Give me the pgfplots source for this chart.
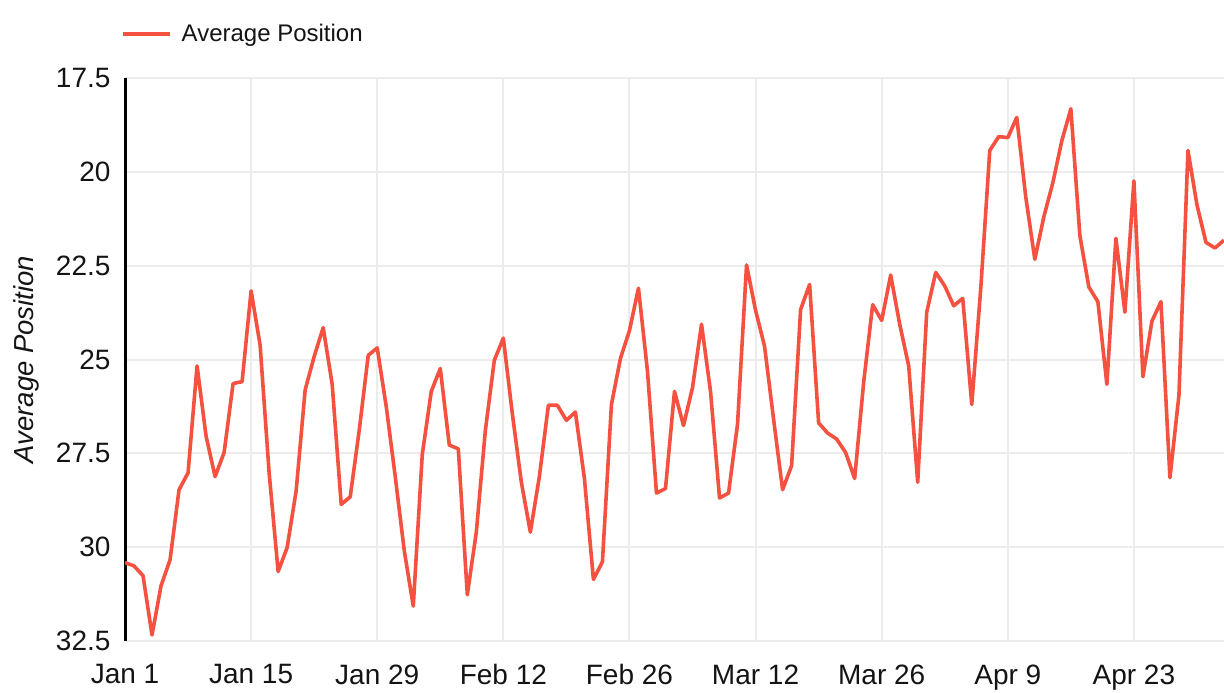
\documentclass[border=0pt]{standalone}
\usepackage{pgfplots}
\pgfplotsset{compat=1.18}
\usepackage{pgfplotstable}
\usepackage{fontspec}
\setmainfont{Liberation Sans}
\definecolor{linered}{RGB}{244,81,64}
\definecolor{gridgray}{RGB}{236,236,236}
\definecolor{txt}{RGB}{20,20,20}
\pgfplotstableread{
d v
0 30.41
1 30.50
2 30.76
3 32.34
4 31.03
5 30.34
6 28.47
7 28.02
8 25.17
9 27.04
10 28.12
11 27.48
12 25.64
13 25.59
14 23.17
15 24.62
16 28.02
17 30.65
18 30.01
19 28.5
20 25.81
21 24.92
22 24.15
23 25.66
24 28.86
25 28.66
26 26.89
27 24.89
28 24.69
29 26.25
30 28.12
31 30.09
32 31.57
33 27.53
34 25.85
35 25.24
36 27.28
37 27.38
38 31.27
39 29.6
40 26.9
41 25.02
42 24.43
43 26.45
44 28.27
45 29.6
46 28.12
47 26.22
48 26.22
49 26.62
50 26.4
51 28.17
52 30.86
53 30.39
54 26.2
55 24.97
56 24.23
57 23.1
58 25.31
59 28.56
60 28.44
61 25.85
62 26.76
63 25.75
64 24.06
65 25.85
66 28.69
67 28.56
68 26.72
69 22.48
70 23.69
71 24.65
72 26.59
73 28.47
74 27.83
75 23.67
76 23.0
77 26.69
78 26.96
79 27.12
80 27.48
81 28.17
82 25.61
83 23.54
84 23.96
85 22.75
86 24.06
87 25.17
88 28.27
89 23.74
90 22.68
91 23.04
92 23.57
93 23.37
94 26.2
95 23.1
96 19.43
97 19.06
98 19.09
99 18.55
100 20.68
101 22.33
102 21.2
103 20.29
104 19.17
105 18.32
106 21.7
107 23.07
108 23.46
109 25.66
110 21.77
111 23.74
112 20.24
113 25.46
114 23.98
115 23.46
116 28.15
117 25.95
118 19.43
119 20.88
120 21.88
121 22.03
122 21.82
}\datatable
\begin{document}
\begin{tikzpicture}
\useasboundingbox (0pt,0pt) rectangle (1224pt,693pt);
\begin{axis}[
  at={(125pt,52pt)}, anchor=south west,
  scale only axis, width=1099pt, height=563pt,
  xmin=0, xmax=122,
  ymin=17.5, ymax=32.5, y dir=reverse,
  xtick={0,14,28,42,56,70,84,98,112},
  xticklabels={Jan 1,Jan 15,Jan 29,Feb 12,Feb 26,Mar 12,Mar 26,Apr 9,Apr 23},
  ytick={17.5,20,22.5,25,27.5,30,32.5},
  /pgf/number format/assume math mode=true,
  major tick length=0pt,
  axis x line*=bottom, axis y line*=left,
  x axis line style={draw=none},
  y axis line style={black, line width=3pt},
  grid=major,
  major grid style={gridgray, line width=2pt},
  tick label style={font=\fontsize{28}{33}\selectfont, text=txt},
  yticklabel style={xshift=-11pt},
  xticklabel style={yshift=-20pt},
  ylabel={\itshape Average Position},
  every axis y label/.style={at={(rel axis cs:0,0.5)}, anchor=center, xshift=-99pt, rotate=90, font=\fontsize{27.5}{32}\selectfont, text=txt},
  legend style={at={(rel axis cs:0,1)}, anchor=west, xshift=-4pt, yshift=44pt, draw=none, fill=none, inner sep=0pt, font=\fontsize{24}{28}\selectfont, text=txt,
    nodes={inner sep=0pt}, /tikz/every odd column/.append style={column sep=10pt}},
  legend image code/.code={\draw[#1, line width=3.5pt] (0pt,0pt) -- (47pt,0pt);},
  clip=true,
]
\addplot[linered, line width=3.6pt, line join=round] table[x=d, y=v] {\datatable};
\addlegendentry{Average Position}
\end{axis}
\end{tikzpicture}
\end{document}
